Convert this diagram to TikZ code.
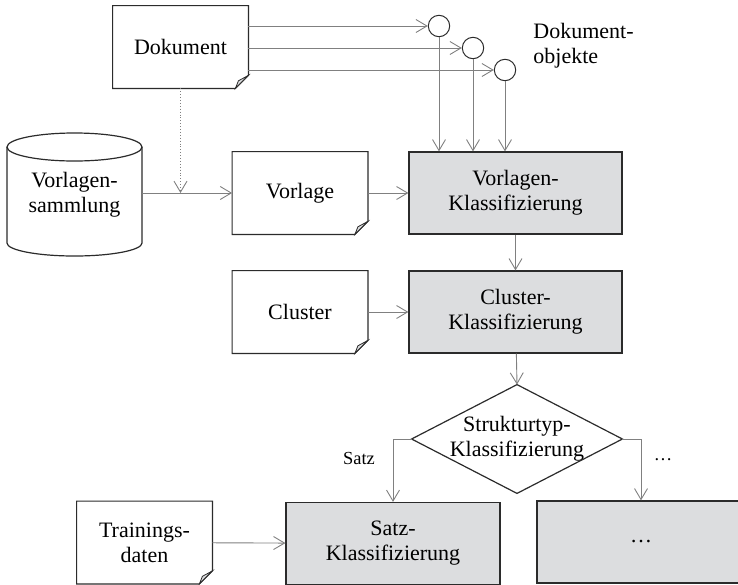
\documentclass[tikz,border=0pt]{standalone}
\usepackage{fontspec}
\setmainfont{Liberation Serif}
\usepackage{xcolor}
\usetikzlibrary{arrows.meta, calc}

\definecolor{boxgray}{HTML}{DCDDDF}
\definecolor{linegray}{HTML}{808080}
\definecolor{edgegray}{HTML}{2B2B2B}

\tikzset{
	pfeil/.style={draw=linegray, line width=0.45pt, -{Straight Barb[length=5.5pt, width=6.5pt]}},
	dokbox/.style={rectangle, minimum width=67.5pt, minimum height=41pt, align=center, inner sep=0pt},
	klassbox/.style={rectangle, draw=edgegray, fill=boxgray, line width=0.6pt, minimum width=106.5pt, minimum height=41pt, align=center},
	objkreis/.style={circle, draw=edgegray, line width=0.5pt, minimum size=10.7pt, inner sep=0pt},
	klein/.style={font=\fontsize{9.2}{11}\selectfont}
}

\begin{document}
\begin{tikzpicture}[x=0.5pt, y=-0.5pt, font=\fontsize{11}{12.5}\selectfont]
		\useasboundingbox (0,0) rectangle (738,584);

		\def\fold{6.5pt};

		% Dokumente
		\node[dokbox] (dok) at (180.5,47) {Dokument};
		\node[dokbox] (vorlage) at (300,193) {Vorlage};
		\node[dokbox] (cluster) at (300,312) {Cluster};
		\node[dokbox] (train) at (144.5,542.5) {Trainings-\\daten};

		\foreach \n in {dok, vorlage, cluster, train} {
			\draw[edgegray, line width=0.6pt] (\n.north west) -- (\n.north east)
				-- ([yshift=\fold]\n.south east) -- ([xshift=-\fold]\n.south east)
				-- (\n.south west) -- cycle;
			\filldraw[fill=boxgray, draw=edgegray, line width=0.4pt] ([yshift=\fold]\n.south east)
				-- ([xshift=-5pt, yshift=3.8pt]\n.south east) -- ([xshift=-\fold]\n.south east) -- cycle;
		}

		% Vorlagensammlung
		\node[dokbox, minimum height=48pt] (samml) at (74.5,195) {Vorlagen-\\sammlung};
		\begin{scope}[edgegray, line width=0.6pt]
			\draw (7,147) -- (7,243) arc[start angle=180, end angle=360, x radius=67.5, y radius=-13] -- (142,147);
			\draw (74.5,147) ellipse[x radius=67.5, y radius=14];
		\end{scope}

		% Klassifizierung
		\node[klassbox] (vk) at (515.5,193) {Vorlagen-\\Klassifizierung};
		\node[klassbox] (ck) at (515.5,312) {Cluster-\\Klassifizierung};
		\node[rectangle, minimum width=105pt, minimum height=54pt, align=center] (typ) at (517,439) {Strukturtyp-\\Klassifizierung};
		\draw[edgegray, line width=0.6pt] (typ.north) -- (typ.east) -- (typ.south) -- (typ.west) -- cycle;
		\node[klassbox, minimum width=107pt] (satz) at (393,543.5) {Satz-\\Klassifizierung};
		\node[klassbox, minimum width=104pt] (mehr) at (641,542) {\dots};

		% Dokumentobjekte
		\node[objkreis] (o1) at (439,26) {};
		\node[objkreis] (o2) at (473,48) {};
		\node[objkreis] (o3) at (505,70) {};
		\node[anchor=west, align=left, inner sep=0pt] (objlabel) at (533,46) {Dokument-\\objekte};

		\foreach \o in {o1, o2, o3} {
			\draw[pfeil] (dok.east |- \o) -- (\o);
			\draw[pfeil] (\o) -- (\o |- vk.north);
		}

		\coordinate (join) at (dok.south |- vorlage.west);
		\draw[pfeil, densely dotted] (dok) -- (join);
		\draw[pfeil] (samml.east |- vorlage.west) -- (vorlage);
		\draw[pfeil] (vorlage) -- (vk);
		\draw[pfeil] (vk) -- (ck);
		\draw[pfeil] (cluster) -- (ck);
		\draw[pfeil] (ck) -- (typ.north);
		\draw[pfeil] (typ.west) -| (satz.north);
		\draw[pfeil] (typ.east) -| (mehr.north);
		\draw[pfeil] (train) -- (satz);

		\node[klein] (satzlabel) at (359,458) {Satz};
		\node[klein] (mehrlabel) at (663,460) {\dots};
	\end{tikzpicture}
\end{document}
